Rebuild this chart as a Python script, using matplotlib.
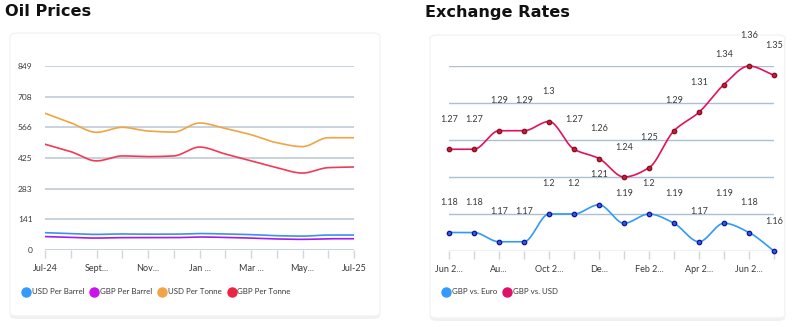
import numpy as np
import matplotlib
matplotlib.use("Agg")
import matplotlib.pyplot as plt
from matplotlib.patches import FancyBboxPatch
from matplotlib.lines import Line2D

# ---- data ----
oil_months = ["Jul-24", "Aug", "Sept...", "Oct", "Nov...", "Dec", "Jan ...",
              "Feb", "Mar ...", "Apr", "May...", "Jun", "Jul-25"]
usd_barrel = [80, 76, 72, 74, 73, 73, 76, 74, 71, 66, 64, 69, 69]
gbp_barrel = [62, 58, 55, 57, 57, 57, 60, 58, 55, 51, 49, 52, 52]
usd_tonne = [631, 587, 543, 566, 549, 544, 586, 561, 532, 495, 477, 518, 518]
gbp_tonne = [488, 454, 411, 434, 431, 434, 475, 443, 412, 380, 355, 380, 383]
oil_yticks = [0, 141, 283, 425, 566, 708, 849]

fx_months = ["Jun 2...", "Jul", "Au...", "Sep", "Oct 2...", "Nov", "De...",
             "Jan", "Feb 2...", "Mar", "Apr 2...", "May", "Jun 2...", "Jul"]
gbp_euro = [1.18, 1.18, 1.17, 1.17, 1.20, 1.20, 1.21, 1.19, 1.20, 1.19, 1.17, 1.19, 1.18, 1.16]
gbp_usd = [1.27, 1.27, 1.29, 1.29, 1.30, 1.27, 1.26, 1.24, 1.25, 1.29, 1.31, 1.34, 1.36, 1.35]

TXT = "#3a3a3a"
GRID = "#c3cfda"


def monotone(y, n=20):
    # monotone cubic (like d3 curveMonotoneX) for drawing the smooth line
    y = np.asarray(y, float)
    x = np.arange(len(y), dtype=float)
    d = np.diff(y)
    m = np.zeros(len(y))
    m[0], m[-1] = d[0], d[-1]
    for i in range(1, len(y) - 1):
        if d[i - 1] * d[i] <= 0:
            m[i] = 0
        else:
            m[i] = 2 / (1 / d[i - 1] + 1 / d[i])
    xs, ys = [], []
    for i in range(len(y) - 1):
        t = np.linspace(0, 1, n, endpoint=False)
        h00 = 2 * t**3 - 3 * t**2 + 1
        h10 = t**3 - 2 * t**2 + t
        h01 = -2 * t**3 + 3 * t**2
        h11 = t**3 - t**2
        xs.append(x[i] + t)
        ys.append(h00 * y[i] + h10 * m[i] + h01 * y[i + 1] + h11 * m[i + 1])
    xs.append([x[-1]])
    ys.append([y[-1]])
    return np.concatenate(xs), np.concatenate(ys)


fig = plt.figure(figsize=(8, 3.27), dpi=100)
fig.patch.set_facecolor("white")
plt.rcParams["font.family"] = ["Lato", "DejaVu Sans"]

# cards with faint shadow
for (x0, y0, w, h) in [(10, 33, 370, 283), (430, 35, 355, 283)]:
    sh = FancyBboxPatch((x0 / 800, 1 - (y0 + h + 3) / 327), w / 800, h / 327,
                        boxstyle="round,pad=0,rounding_size=0.01",
                        transform=fig.transFigure, fc="#f0f0f0", ec="none", zorder=-10)
    card = FancyBboxPatch((x0 / 800, 1 - (y0 + h) / 327), w / 800, h / 327,
                          boxstyle="round,pad=0,rounding_size=0.01",
                          transform=fig.transFigure, fc="white", ec="#f3f3f3", lw=1, zorder=-9)
    fig.patches.extend([sh, card])

fig.text(5 / 800, 1 - 12 / 327, "Oil Prices", fontsize=11.6, fontweight="bold",
         family="DejaVu Sans", color="#111111", va="center")
fig.text(425 / 800, 1 - 12 / 327, "Exchange Rates", fontsize=11.6, fontweight="bold",
         family="DejaVu Sans", color="#111111", va="center")

# ---- oil prices ----
ax1 = fig.add_axes([45 / 800, 1 - 250 / 327, 309 / 800, 184 / 327])
ax1.set_xlim(0, len(oil_months) - 1)
ax1.set_ylim(0, 849)
for s, c in [(usd_barrel, "#3d8ff5"), (gbp_barrel, "#a21cf0"),
             (usd_tonne, "#f0a444"), (gbp_tonne, "#f23a56")]:
    xs, ys = monotone(s)
    ax1.plot(xs, ys, color=c, lw=1.2, zorder=3)
ax1.set_yticks(oil_yticks)
ax1.set_yticklabels([str(v) for v in oil_yticks])
ax1.grid(axis="y", color=GRID, lw=1.3)
ax1.set_xticks(range(len(oil_months)))
ax1.set_xticklabels([m if i % 2 == 0 else "" for i, m in enumerate(oil_months)])

# ---- exchange rates ----
ax2 = fig.add_axes([449 / 800, 1 - 251 / 327, 325 / 800, 185 / 327])
ax2.set_xlim(0, len(fx_months) - 1)
ax2.set_ylim(1.16, 1.36)
for s, lc, mc, fc in [(gbp_euro, "#3399f5", "#0a14a0", "#3a5ad8"),
                      (gbp_usd, "#e0125e", "#8a0a1e", "#c0203a")]:
    xs, ys = monotone(s)
    ax2.plot(xs, ys, color=lc, lw=1.2, zorder=3, clip_on=False)
    ax2.plot(range(len(s)), s, "o", ms=3.2, mfc=fc, mec=mc, mew=0.9,
             zorder=4, clip_on=False)
    for i, v in enumerate(s):
        ax2.annotate(f"{v:g}", (i, v), xytext=(0, 30), textcoords="offset pixels",
                     ha="center", va="center", fontsize=6.5, color=TXT)
ax2.set_yticks(np.arange(1.16, 1.361, 0.04))
ax2.tick_params(axis="y", length=0, labelleft=False)
ax2.grid(axis="y", color="#aac0d4", lw=1.0)
ax2.set_xticks(range(len(fx_months)))
ax2.set_xticklabels([m if i % 2 == 0 else "" for i, m in enumerate(fx_months)])

for ax in (ax1, ax2):
    ax.set_facecolor("none")
    for sp in ax.spines.values():
        sp.set_visible(False)
    ax.set_axisbelow(True)
    ax.tick_params(axis="x", length=6, color="#cfd6dd", width=1, labelsize=6.5,
                   labelcolor=TXT, pad=4)
    ax.tick_params(axis="y", length=0, labelsize=6, labelcolor=TXT, pad=9)

# legends
def legend(labels, colors, x0):
    handles = [Line2D([], [], marker="o", ls="", ms=6.5, color=c) for c in colors]
    fig.legend(handles, labels, loc="center left", bbox_to_anchor=(x0 / 800, 1 - 292 / 327),
               ncol=len(labels), frameon=False, fontsize=5.7, handletextpad=0.2,
               columnspacing=0.8, labelcolor=TXT, borderaxespad=0, borderpad=0,
               handlelength=1.0)

legend(["USD Per Barrel", "GBP Per Barrel", "USD Per Tonne", "GBP Per Tonne"],
       ["#3399ff", "#cc11ee", "#f0a444", "#ee2244"], 22)
legend(["GBP vs. Euro", "GBP vs. USD"], ["#3399ff", "#e0106a"], 442)

fig.savefig("out.png", dpi=100)
